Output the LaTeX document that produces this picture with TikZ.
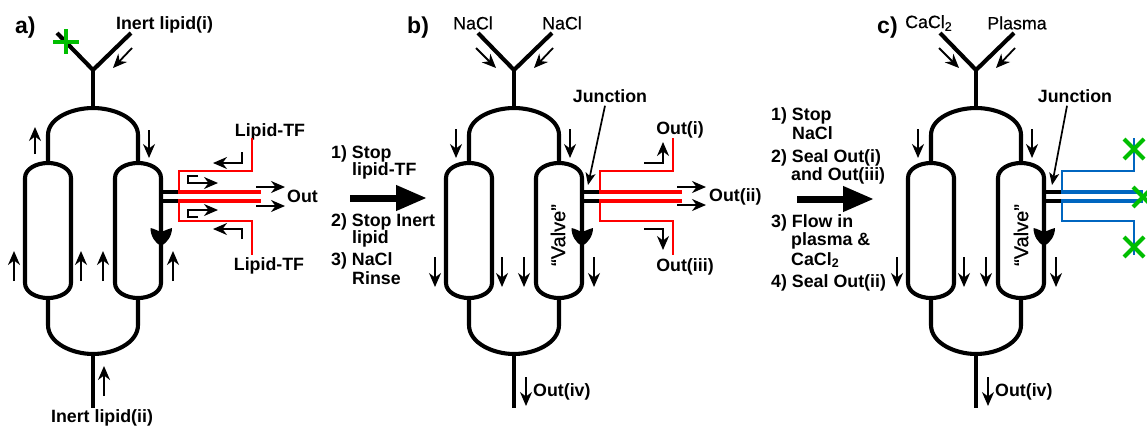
\documentclass[tikz,border=0pt]{standalone}
\usepackage{fontspec}
\setmainfont{Liberation Sans}
\newfontfamily\medfont[FakeBold=0.5]{Liberation Sans}
\usetikzlibrary{arrows.meta}
\definecolor{tfred}{RGB}{255,0,0}
\definecolor{tfblue}{RGB}{0,102,192}
\definecolor{xgreen}{RGB}{0,190,0}
\tikzset{
  chan/.style={line width=4.1pt,black,line join=round},
  flow/.style={line width=1.8pt,black,line join=miter,-{Stealth[length=14pt,width=12pt,inset=4.5pt]}},
  thinwall/.style={line width=1.9pt},
  thickwall/.style={line width=4.4pt},
  stubline/.style={line width=4.4pt,black},
  leader/.style={line width=1.7pt,black,-{Stealth[length=12pt,width=10pt,inset=3pt]}},
  txt/.style={font=\fontsize{17.8}{18}\selectfont\bfseries,inner sep=0pt,text=black},
  plaintxt/.style={font=\fontsize{17.8}{18}\selectfont\medfont,inner sep=0pt,text=black},
  valvetxt/.style={font=\fontsize{20}{20}\selectfont\medfont,inner sep=0pt,text=black,rotate=90},
  tagtxt/.style={font=\fontsize{23}{24}\selectfont\bfseries,inner sep=0pt,anchor=west},
  xmark/.style={line width=4pt,xgreen},
  blockarrow/.style={line width=7pt,black,-{Triangle[length=31pt,width=24pt]}},
}
% #1 prefix, #2 x offset
\newcommand{\chip}[2]{%
\begin{scope}[xshift=#2pt]
  \coordinate (#1yl) at (57,33);
  \coordinate (#1yr) at (131,33);
  \coordinate (#1y) at (93,70);
  \coordinate (#1top) at (93,108);
  \coordinate (#1bot) at (93,354);
  \coordinate (#1end) at (93,408);
  \coordinate (#1lt) at (48,163);
  \coordinate (#1rt) at (138,163);
  \coordinate (#1lb) at (48,298);
  \coordinate (#1rb) at (138,298);
  \draw[chan] (#1yl) -- (#1y) -- (#1yr);
  \draw[chan] (#1y) -- (#1top);
  \draw[chan] (#1lt) -- (48,135) .. controls (48,118) and (72,108) .. (#1top) .. controls (114,108) and (138,118) .. (138,135) -- (#1rt);
  \draw[chan] (#1lb) -- (48,325) .. controls (48,343) and (72,354) .. (#1bot) .. controls (114,354) and (138,343) .. (138,325) -- (#1rb);
  \draw[chan] (#1bot) -- (#1end);
  \draw[chan] (25,178) .. controls (25,169) and (36,163) .. (#1lt) .. controls (60,163) and (71,169) .. (71,178) -- (71,283) .. controls (71,292) and (60,298) .. (#1lb) .. controls (36,298) and (25,292) .. (25,283) -- cycle;
  \draw[chan] (115,178) .. controls (115,169) and (126,163) .. (#1rt) .. controls (150,163) and (161,169) .. (161,178) -- (161,283) .. controls (161,292) and (150,298) .. (#1rb) .. controls (126,298) and (115,292) .. (115,283) -- cycle;
  \fill[black] (150.5,228) .. controls (155,229) and (158,231) .. (161,232) .. controls (164,231) and (168,229) .. (172,228) .. controls (172,236) and (167,243) .. (161,246) .. controls (155,243) and (150.5,236) .. (150.5,228) -- cycle;
\end{scope}}
\begin{document}
\begin{tikzpicture}[x=1pt,y=-1pt]
\clip (0,0) rectangle (1147,426);
\fill[white] (0,0) rectangle (1147,426);
\chip{a}{0}
\chip{b}{421}
\chip{c}{883}
\node[tagtxt] (ta) at (15,28) {a)};
\node[tagtxt] (tb) at (407,28) {b)};
\node[tagtxt] (tc) at (877,28) {c)};
%%% Panel a
\draw[flow] (132,48) -- (113,68);
\draw[flow] (35,154) -- (35,127);
\draw[flow] (149,130) -- (149,158);
\foreach \x in {14,81,103,173} \draw[flow] (\x,281) -- (\x,251);
\draw[flow] (104,396) -- (104,366);
\draw[xmark] (53,42) -- (79,42) (66,29) -- (66,54);
\node[txt] (ila) at (164.5,25) {Inert lipid(i)};
\node[txt] (ilb) at (102,418) {Inert lipid(ii)};
\node[txt] (ltfa) at (270,131.5) {Lipid-TF};
\node[txt] (ltfb) at (269,265.5) {Lipid-TF};
\node[txt,anchor=west] (outa) at (287,196) {Out};
\draw[tfred,thinwall] (251.7,138) -- (251.7,171) -- (179,171) -- (179,190);
\draw[tfred,thinwall] (179,203) -- (179,221) -- (251.7,221) -- (251.7,255);
\draw[stubline] (161,191.7) -- (179,191.7) (161,200.8) -- (179,200.8);
\draw[tfred,thickwall] (178,191.7) -- (260.7,191.7) (178,200.8) -- (260.7,200.8);
\draw[flow] (242,152) -- (242,163) -- (213,163);
\draw[flow] (242,239) -- (242,229) -- (213,229);
\draw[flow] (198,176) -- (188,176) -- (188,183) -- (218,183);
\draw[flow] (198,217) -- (188,217) -- (188,210) -- (218,210);
\draw[flow] (256,187) -- (285,187);
\draw[flow] (256,206) -- (285,206);
%%% middle text 1
\node[txt,anchor=west] (m1) at (331,154) {1) Stop};
\node[txt,anchor=west] (m2) at (352,171) {lipid-TF};
\node[txt,anchor=west] (m3) at (331,222) {2) Stop Inert};
\node[txt,anchor=west] (m4) at (352,239) {lipid};
\node[txt,anchor=west] (m5) at (331,261) {3) NaCl};
\node[txt,anchor=west] (m6) at (352,278) {Rinse};
\coordinate (arrab) at (350,198); \coordinate (arrbb) at (427,198);
\draw[blockarrow] (arrab) -- (arrbb);
%%% Panel b
\draw[flow] (476,48) -- (496,68);
\draw[flow] (553,48) -- (534,68);
\draw[flow] (456,129) -- (456,158);
\draw[flow] (570,129) -- (570,158);
\foreach \x in {435,502,524,594} \draw[flow] (\x,257) -- (\x,287);
\draw[flow] (526,377) -- (526,406);
\node[plaintxt] (na1) at (473,23) {NaCl};
\node[plaintxt] (na2) at (562,23) {NaCl};
\node[txt] (jb) at (610,96) {Junction};
\node[valvetxt] (vb) at (558,235) {“Valve”};
\node[txt] (o1) at (680,130) {Out(i)};
\node[txt,anchor=west] (o2) at (709,196.5) {Out(ii)};
\node[txt] (o3) at (685,267) {Out(iii)};
\node[txt,anchor=west] (o4) at (533,392) {Out(iv)};
\draw[tfred,thinwall] (672.7,138) -- (672.7,171) -- (600,171) -- (600,190);
\draw[tfred,thinwall] (600,203) -- (600,221) -- (672.7,221) -- (672.7,255);
\draw[stubline] (582,191.7) -- (600,191.7) (582,200.8) -- (600,200.8);
\draw[tfred,thickwall] (599,191.7) -- (682,191.7) (599,200.8) -- (682,200.8);
\draw[leader] (jb.south) ++(-5,3) -- (588,185);
\draw[flow] (644,162.7) -- (663,162.7) -- (663,142);
\draw[flow] (644,229) -- (663,229) -- (663,250);
\draw[flow] (677,187) -- (706,187);
\draw[flow] (677,205) -- (706,205);
%%% middle text 2
\node[txt,anchor=west] (n1) at (771,116) {1) Stop};
\node[txt,anchor=west] (n2) at (792,133) {NaCl};
\node[txt,anchor=west] (n3) at (771,158) {2) Seal Out(i)};
\node[txt,anchor=west] (n4) at (791,176) {and Out(iii)};
\node[txt,anchor=west] (n5) at (771,223) {3) Flow in};
\node[txt,anchor=west] (n6) at (791,241) {plasma \&};
\node[txt,anchor=west] (n7) at (791,260) {CaCl\textsubscript{2}};
\node[txt,anchor=west] (n8) at (771,283) {4) Seal Out(ii)};
\coordinate (arrbc) at (797,199); \coordinate (arrcc) at (874,199);
\draw[blockarrow] (arrbc) -- (arrcc);
%%% Panel c
\draw[flow] (939,48) -- (959,68);
\draw[flow] (1015,48) -- (996,68);
\draw[flow] (918,129) -- (918,158);
\draw[flow] (1032,129) -- (1032,158);
\foreach \x in {897,964,986,1056} \draw[flow] (\x,257) -- (\x,287);
\draw[flow] (988,377) -- (988,406);
\node[plaintxt,anchor=west] (cc) at (905,23) {CaCl\textsubscript{2}};
\node[plaintxt] (pl) at (1017,23) {Plasma};
\node[txt] (jc) at (1075,96) {Junction};
\node[valvetxt] (vc) at (1021,235) {“Valve”};
\node[txt,anchor=west] (o5) at (995,392) {Out(iv)};
\draw[tfblue,thinwall] (1134,138) -- (1134,171) -- (1062,171) -- (1062,190);
\draw[tfblue,thinwall] (1062,203) -- (1062,221) -- (1134,221) -- (1134,255);
\draw[stubline] (1044,191.7) -- (1062,191.7) (1044,200.8) -- (1062,200.8);
\draw[tfblue,thickwall] (1061,191.7) -- (1143,191.7) (1061,200.8) -- (1143,200.8);
\draw[leader] (jc.south) ++(-8,3) -- (1052,185);
\foreach \cx/\cy in {1134/149,1143/197,1134/247}
  \draw[xmark] (\cx-10,\cy-10) -- (\cx+10,\cy+10) (\cx-10,\cy+10) -- (\cx+10,\cy-10);
\end{tikzpicture}
\end{document}
